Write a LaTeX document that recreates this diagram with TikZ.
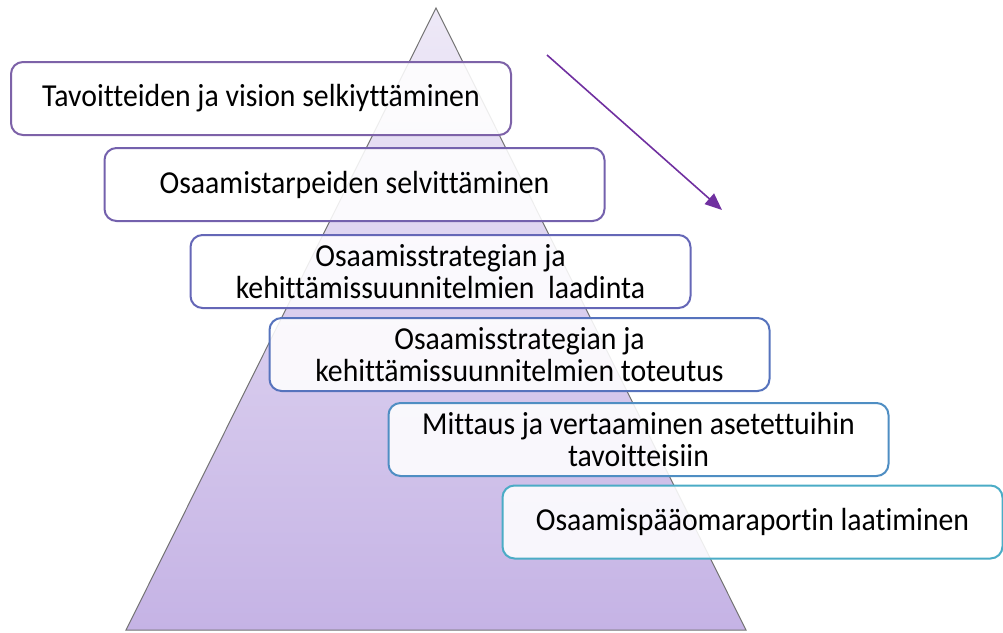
\documentclass[tikz,border=0pt]{standalone}
\usepackage{fontspec}
\setmainfont{Carlito}[Ligatures=NoCommon,FakeStretch=0.93]
\usepackage{tikz}
\usepackage{xcolor}
\usetikzlibrary{arrows.meta}

\begin{document}
\begin{tikzpicture}[x=1pt,y=-1pt,
  stagebox/.style={draw,line width=2pt,rounded corners=12pt,fill=white,fill opacity=0.88,text opacity=1,
    minimum width=500pt,minimum height=73pt,inner sep=0pt,align=center,
    font=\fontsize{32}{32}\selectfont}]
\definecolor{lilacTop}{HTML}{EEE9F7}
\definecolor{lilacBot}{HTML}{C5B3E5}
\definecolor{rim1}{HTML}{7D62A8}
\definecolor{rim2}{HTML}{7461AD}
\definecolor{rim3}{HTML}{6567B7}
\definecolor{rim4}{HTML}{5673BD}
\definecolor{rim5}{HTML}{4F8EC3}
\definecolor{rim6}{HTML}{4BACC6}
\definecolor{arrowpurple}{HTML}{7030A0}
\useasboundingbox (0,0) rectangle (1003,632);
% pyramid
\coordinate (apex) at (436,8);
\coordinate (baseL) at (126,630);
\coordinate (baseR) at (746,630);
\shade[top color=lilacTop,bottom color=lilacBot,draw=black!55,line width=1pt] (apex) -- (baseL) -- (baseR) -- cycle;
% stages
  \foreach \crlr/\pos/\txt [count=\i] in {rim1/{(261,98.5)}/{Tavoitteiden ja vision selkiyttäminen},
      rim2/{(354.5,184.5)}/{Osaamistarpeiden selvittäminen},
      rim3/{(440.5,271.5)}/{Osaamisstrategian ja\\kehittämissuunnitelmien\ \ laadinta},
      rim4/{(519.5,354.5)}/{Osaamisstrategian ja\\kehittämissuunnitelmien toteutus},
      rim5/{(638.5,439.5)}/{Mittaus ja vertaaminen asetettuihin\\tavoitteisiin},
      rim6/{(752.5,522)}/{Osaamispääomaraportin laatiminen}}
  {  \node [stagebox,draw=\crlr] (stage\i) at \pos {\txt};}
% direction
\coordinate (arrstart) at (547,55);
\coordinate (arrend) at (722,210);
\draw[arrowpurple,line width=1.6pt,-{Triangle[length=17pt,width=14pt]}] (arrstart) -- (arrend);
\end{tikzpicture}
\end{document}
